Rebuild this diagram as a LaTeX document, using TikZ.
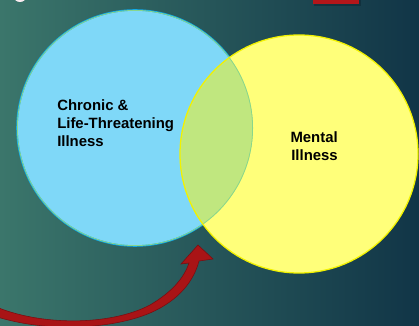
\documentclass[tikz,border=0pt]{standalone}
\usepackage{fontspec}
\setmainfont{Liberation Sans}
\definecolor{bgleft}{HTML}{3B766B}
\definecolor{bgright}{HTML}{113547}
\definecolor{blueill}{HTML}{7FD8F8}
\definecolor{blueedge}{HTML}{0FAAE8}
\definecolor{yellowill}{HTML}{FFFF7A}
\definecolor{yellowedge}{HTML}{F2F200}
\definecolor{overlap}{HTML}{C0E77F}
\definecolor{overlapedge}{HTML}{88D68C}
\definecolor{arrowred}{HTML}{A91416}
\definecolor{arrowedge}{HTML}{7A0D10}
\definecolor{tabred}{HTML}{B3161A}
\tikzset{
  lbl/.style={inner sep=0pt, font=\fontsize{10.6}{12.8}\selectfont\bfseries, text=black}
}

\begin{document}
\begin{tikzpicture}[x=0.025cm, y=-0.025cm]
    \useasboundingbox (0,0) rectangle (419,326);
    \clip (0,0) rectangle (419,326);
    \shade[left color=bgleft, right color=bgright] (0,0) rectangle (419,326);
    \fill[bgright!70!black, opacity=0.5] (314,0) rectangle (361,6);
    \fill[tabred] (313,-2) rectangle (359,4);
    \fill[purple!8!white] (20,-3) ellipse (6 and 5);

    \coordinate (chronicC) at (135,128);
    \coordinate (mentalC) at (299,154);

    \fill[blueill] (chronicC) circle (118);
    \draw[blueedge, line width=1.1pt] (chronicC) circle (118);
    \fill[yellowill] (mentalC) circle (119);
    \begin{scope}
        \clip (chronicC) circle (118);
        \fill[overlap] (mentalC) circle (119);
        \draw[overlapedge, line width=1.1pt] (chronicC) circle (118);
    \end{scope}
    \draw[yellowedge, line width=0.9pt] (mentalC) circle (119);

    \node[lbl, anchor=north west, align=left] (chronic) at (57,99) {Chronic \&\\Life-Threatening\\Illness};
    \node[lbl, anchor=north east, align=right] (mental) at (338,131) {Mental\\Illness};

    \coordinate (tip) at (198,245);
    \filldraw[fill=arrowred, draw=arrowedge, line width=0.4pt, line join=miter]
        (-6,306) .. controls (40,326) and (110,326) .. (150,305)
        .. controls (172,292) and (184,278) .. (189,263)
        -- (181,264) -- (tip) -- (213,259) -- (199,261)
        .. controls (194,280) and (180,300) .. (150,313)
        .. controls (115,328) and (50,334) .. (-6,316) -- cycle;
\end{tikzpicture}
\end{document}
